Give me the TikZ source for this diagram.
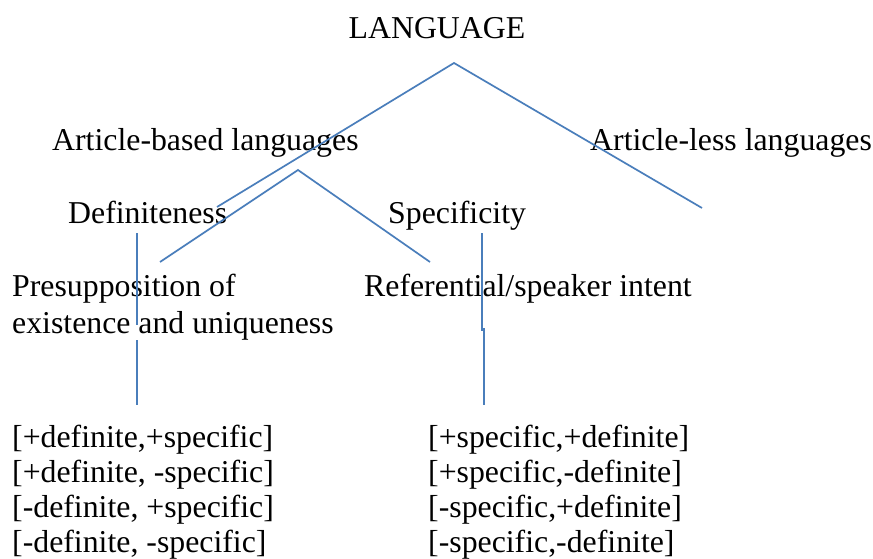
\documentclass[tikz,border=0pt]{standalone}
\usepackage{fontspec}
\setmainfont{Liberation Serif}
\definecolor{linkblue}{HTML}{4A7EBB}
\begin{document}
\begin{tikzpicture}[x=1pt,y=-1pt,
  lbl/.style={anchor=base west,inner sep=0pt,font=\fontsize{31.8}{37}\selectfont},
  link/.style={draw=linkblue,line width=1.7pt}]
\useasboundingbox[fill=white] (0,0) rectangle (873,559);
% texts
\node[lbl,anchor=base] (lang) at (437,39) {LANGUAGE};
\node[lbl] (artb) at (52,150) {Article-based languages};
\node[lbl] (artl) at (590,150) {Article-less languages};
\node[lbl] (def) at (68,223) {Definiteness};
\node[lbl] (spec) at (388,223) {Specificity};
\node[lbl] (pres1) at (12,296) {Presupposition of};
\node[lbl] (pres2) at (12,333) {existence and uniqueness};
\node[lbl] (ref) at (364,296) {Referential/speaker intent};
\node[lbl] (l1) at (12,447) {[+definite,+specific]};
\node[lbl] (l2) at (12,482) {[+definite, -specific]};
\node[lbl] (l3) at (12,517) {[-definite, +specific]};
\node[lbl] (l4) at (12,552) {[-definite, -specific]};
\node[lbl] (r1) at (428,447) {[+specific,+definite]};
\node[lbl] (r2) at (428,482) {[+specific,-definite]};
\node[lbl] (r3) at (428,517) {[-specific,+definite]};
\node[lbl] (r4) at (428,552) {[-specific,-definite]};
% connector points
\coordinate (apexA) at (454,63);
\coordinate (endAL) at (217,207);
\coordinate (endAR) at (702,208);
\coordinate (apexB) at (298,170);
\coordinate (endBL) at (160,262);
\coordinate (endBR) at (430,262);
\coordinate (vl1) at (137,233);
\coordinate (vl2) at (137,325);
\coordinate (vl3) at (137,340);
\coordinate (vl4) at (137,405);
\coordinate (vr1) at (482,233);
\coordinate (vr2) at (482,331);
\coordinate (vr3) at (484,328);
\coordinate (vr4) at (484,405);
% connectors
\draw[link] (endAL) -- (apexA) -- (endAR);
\draw[link] (endBL) -- (apexB) -- (endBR);
\draw[link] (vl1) -- (vl2);
\draw[link] (vl3) -- (vl4);
\draw[link] (vr1) -- (vr2);
\draw[link] (vr3) -- (vr4);
\end{tikzpicture}
\end{document}
